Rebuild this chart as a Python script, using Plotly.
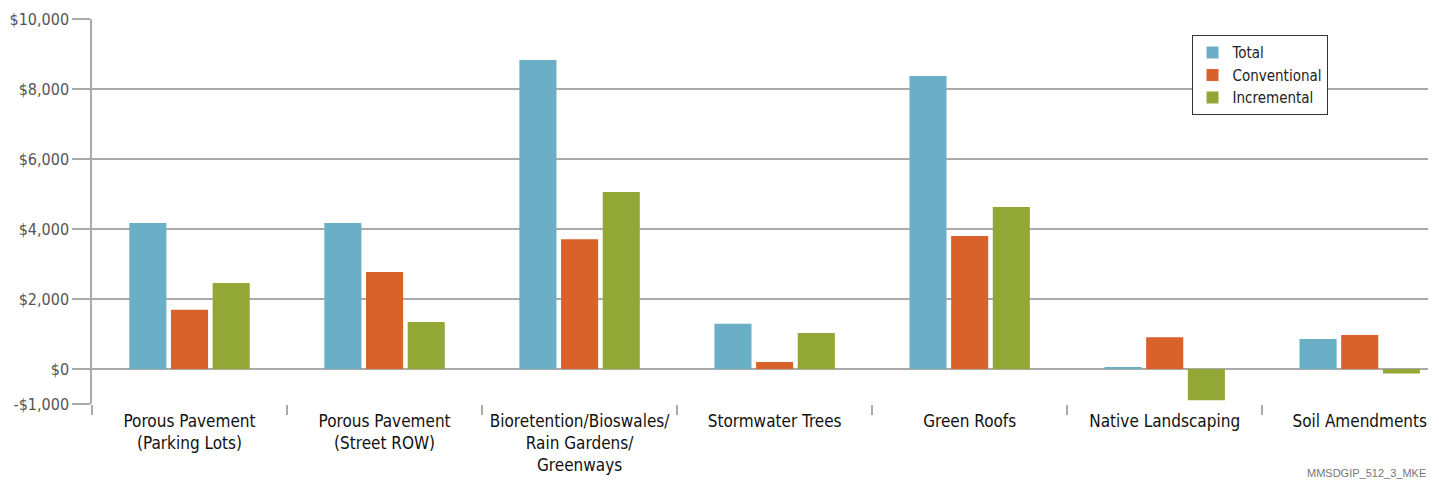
import plotly.graph_objects as go

categories = ["Porous Pavement<br>(Parking Lots)", "Porous Pavement<br>(Street ROW)",
              "Bioretention/Bioswales/<br>Rain Gardens/<br>Greenways", "Stormwater Trees",
              "Green Roofs", "Native Landscaping", "Soil Amendments"]
total = [4170, 4170, 8830, 1290, 8370, 50, 860]
conventional = [1690, 2770, 3710, 200, 3800, 910, 970]
incremental = [2460, 1340, 5060, 1030, 4630, -890, -130]
y_ticks = [-1000, 0, 2000, 4000, 6000, 8000, 10000]
y_labels = ["-$1,000", "$0", "$2,000", "$4,000", "$6,000", "$8,000", "$10,000"]

font_fam = "DejaVu Sans Condensed, Liberation Sans Narrow, sans-serif"

fig = go.Figure()
fig.add_bar(name="Total", x=categories, y=total, marker_color="#6aafc5", marker_line_width=0)
fig.add_bar(name="Conventional", x=categories, y=conventional, marker_color="#d9622b", marker_line_width=0)
fig.add_bar(name="Incremental", x=categories, y=incremental, marker_color="#93a737", marker_line_width=0)

fig.update_layout(
    width=1439, height=482,
    margin=dict(l=84, r=19, t=11, b=86),
    paper_bgcolor="white", plot_bgcolor="white",
    barmode="group", bargap=0.359, bargroupgap=0.11,
    font=dict(family=font_fam, size=16, color="#222"),
    legend=dict(x=0.823, y=0.958, xanchor="left", yanchor="top",
                bordercolor="#333", borderwidth=1, bgcolor="white",
                font=dict(size=15, color="#222"), tracegroupgap=0,
                itemwidth=30),
    showlegend=True,
)
fig.update_xaxes(
    range=[-0.5, 6.35],
    showgrid=False, tickson="boundaries", ticks="outside", ticklen=10,
    tickcolor="#aaa", tickwidth=1.5, showline=False, tickangle=0,
    automargin=False, ticklabelstandoff=5,
    tickfont=dict(size=17, color="#111"),
)
fig.update_yaxes(
    range=[-1000, 10000], tickvals=y_ticks, ticktext=y_labels,
    showgrid=True, gridcolor="#aaa", gridwidth=1.5,
    zeroline=True, zerolinecolor="#aaa", zerolinewidth=1.5,
    showline=True, linecolor="#aaa", linewidth=1.5,
    ticks="outside", ticklen=18, tickcolor="#aaa", tickwidth=1.5,
    automargin=False,
    tickfont=dict(size=16, color="#555"),
)
fig.add_annotation(text="MMSDGIP_512_3_MKE", xref="paper", yref="paper",
                   x=1.0, y=-0.178, xanchor="right", yanchor="middle", showarrow=False,
                   font=dict(family="Liberation Sans, Arial, sans-serif", size=11, color="#777"))

fig.write_html("out.html")
